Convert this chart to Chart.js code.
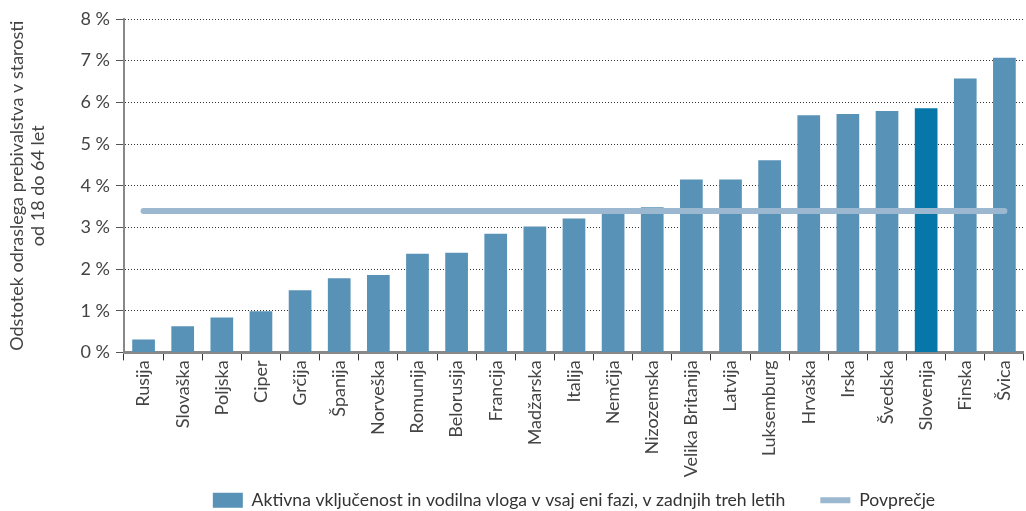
<!DOCTYPE html>
<html>
<head>
<meta charset="utf-8">
<script src="https://cdn.jsdelivr.net/npm/chart.js@4.4.0/dist/chart.umd.min.js"></script>
<style>
  html, body { margin: 0; padding: 0; background: #fff; }
  #wrap { width: 1026px; height: 511px; }
</style>
</head>
<body>
<div id="wrap"><canvas id="chart-drzave"></canvas></div>
<script>
// podatki
const drzave = ['Rusija', 'Slovaška', 'Poljska', 'Ciper', 'Grčija', 'Španija', 'Norveška', 'Romunija',
  'Belorusija', 'Francija', 'Madžarska', 'Italija', 'Nemčija', 'Nizozemska', 'Velika Britanija',
  'Latvija', 'Luksemburg', 'Hrvaška', 'Irska', 'Švedska', 'Slovenija', 'Finska', 'Švica'];
const delez = [0.31, 0.63, 0.84, 0.99, 1.49, 1.78, 1.86, 2.37, 2.39, 2.85, 3.02, 3.21, 3.43, 3.48,
  4.15, 4.15, 4.61, 5.69, 5.72, 5.79, 5.86, 6.57, 7.07];
const povprecje = 3.39;
const yOznake = ['0 %', '1 %', '2 %', '3 %', '4 %', '5 %', '6 %', '7 %', '8 %'];

const barvaStolpec = '#5892b6';
const barvaSlovenija = '#0677a8';
const barvaPovprecje = '#9bb8d0';

Chart.defaults.font.family = 'Lato, "Noto Sans", sans-serif';
Chart.defaults.color = '#444';

let canvas = document.getElementById('chart-drzave').getContext('2d');

let chartDrzave = new Chart(canvas, {
  type: 'bar',
  data: {
    labels: drzave,
    datasets: [{
      label: 'Aktivna vključenost in vodilna vloga v vsaj eni fazi, v zadnjih treh letih',
      data: delez,
      backgroundColor: drzave.map(d => d === 'Slovenija' ? barvaSlovenija : barvaStolpec),
      barPercentage: 0.58,
      categoryPercentage: 1,
      order: 2
    }, {
      type: 'line',
      label: 'Povprečje',
      data: drzave.map(() => povprecje),
      borderColor: barvaPovprecje,
      backgroundColor: barvaPovprecje,
      borderWidth: 6,
      borderCapStyle: 'round',
      pointRadius: 0,
      order: 1
    }]
  },
  options: {
    responsive: true,
    maintainAspectRatio: false,
    animation: false,
    layout: { padding: { top: 19, right: 0, left: 0, bottom: -8 } },
    plugins: {
      tooltip: { enabled: false },
      legend: {
        position: 'bottom',
        fullSize: false,
        labels: {
          usePointStyle: true,
          pointStyleWidth: 30,
          boxHeight: 15,
          padding: 13,
          color: '#333',
          font: { size: 17.6 },
          sort: (a, b) => a.datasetIndex - b.datasetIndex,
          // razmik med elementoma legende
          generateLabels: chart => Chart.defaults.plugins.legend.labels.generateLabels(chart)
            .map(it => ({
              ...it,
              text: it.datasetIndex === 0 ? it.text + '\u2002\u2002 ' : it.text,
              pointStyle: it.datasetIndex === 0 ? 'rect' : 'line'
            }))
        }
      }
    },
    scales: {
      x: {
        offset: true,
        grid: { display: true, drawOnChartArea: false, drawTicks: true, tickLength: 8, tickColor: '#333', offset: true },
        border: { display: true, color: '#888', width: 3 },
        ticks: { maxRotation: 90, minRotation: 90, autoSkip: false, padding: 0, font: { size: 18 }, color: '#444' },
        afterFit: s => { s.height = 126; }
      },
      y: {
        min: 0,
        max: 8,
        ticks: { stepSize: 1, padding: 6, font: { size: 18 }, color: '#444', callback: v => yOznake[v] },
        grid: { color: '#333', lineWidth: 1, tickLength: 8, tickColor: '#555', tickBorderDash: [] },
        border: { display: true, color: '#888', width: 2, dash: [1, 2] },
        title: {
          display: true,
          text: ['Odstotek odraslega prebivalstva v starosti', 'od 18 do 64 let'],
          font: { size: 18, lineHeight: 1.15 },
          color: '#444',
          padding: { top: 7, bottom: 0 }
        },
        afterFit: s => { s.width = 124; }
      }
    }
  }
});
</script>
</body>
</html>
